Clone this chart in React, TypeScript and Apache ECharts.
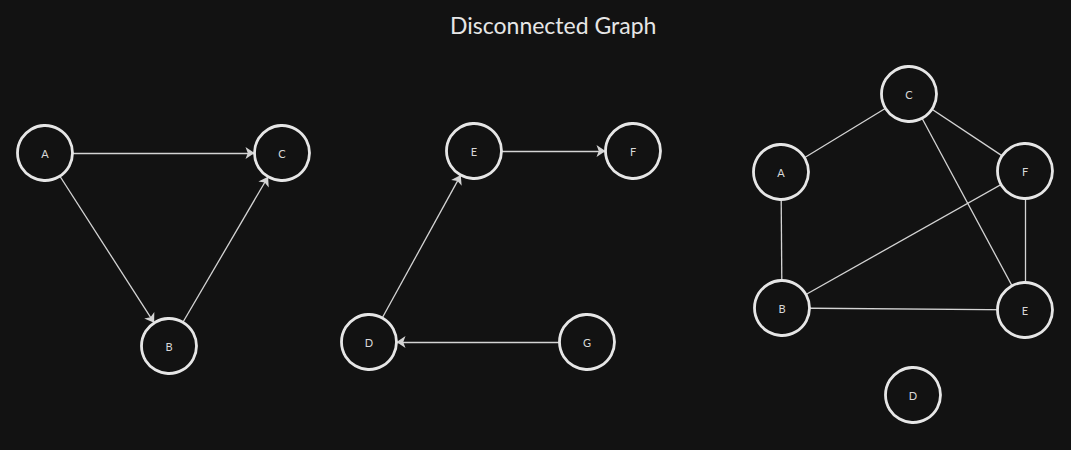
import { useEffect, useRef } from "react"
import * as echarts from "echarts"

// node name, x, y (pixel positions on a 1071x450 canvas)
const leftNodes: [string, number, number][] = [
  ["A", 45, 153],
  ["B", 169, 346],
  ["C", 282, 153],
]
const leftLinks: [string, string][] = [
  ["A", "C"],
  ["A", "B"],
  ["B", "C"],
]

const midNodes: [string, number, number][] = [
  ["E", 474, 151],
  ["F", 633, 151],
  ["D", 369, 342],
  ["G", 587, 342],
]
const midLinks: [string, string][] = [
  ["E", "F"],
  ["D", "E"],
  ["G", "D"],
]

const rightNodes: [string, number, number][] = [
  ["C", 909, 94],
  ["A", 781, 172],
  ["F", 1025, 171],
  ["B", 782, 308],
  ["E", 1025, 310],
  ["D", 913, 395],
]
const rightLinks: [string, string][] = [
  ["A", "C"],
  ["C", "F"],
  ["C", "E"],
  ["A", "B"],
  ["B", "F"],
  ["B", "E"],
  ["F", "E"],
]

const BG = "#121212"
const INK = "#e6e6e6"

const makeSeries = (
  nodes: [string, number, number][],
  links: [string, string][],
  directed: boolean
) => ({
  type: "graph",
  coordinateSystem: "cartesian2d",
  symbol: "circle",
  symbolSize: 55,
  edgeSymbol: directed ? ["none", "arrow"] : ["none", "none"],
  edgeSymbolSize: 9,
  itemStyle: {
    color: BG,
    borderColor: INK,
    borderWidth: 2.8,
  },
  label: {
    show: true,
    position: "inside",
    color: "#d8d8d8",
    fontSize: 11,
    fontFamily: "Lato",
  },
  lineStyle: {
    color: "#d4d4d4",
    width: 1.3,
    opacity: 1,
    curveness: 0,
  },
  emphasis: { disabled: true },
  data: nodes.map(([name, x, y]) => ({ name, value: [x, y] })),
  links: links.map(([source, target]) => ({ source, target })),
})

const App = () => {
  const chartRef = useRef<HTMLDivElement>(null)

  useEffect(() => {
    document.body.style.margin = "0"
    document.body.style.background = BG
    if (!chartRef.current) return
    const chart = echarts.init(chartRef.current, null, { renderer: "svg" })

    chart.setOption({
      animation: false,
      backgroundColor: BG,
      title: {
        text: "Disconnected Graph",
        left: 445,
        top: 8,
        textStyle: {
          color: INK,
          fontSize: 23,
          fontWeight: "normal",
          fontFamily: "Lato",
        },
      },
      grid: { left: 0, right: 0, top: 0, bottom: 0 },
      xAxis: { type: "value", min: 0, max: 1071, show: false },
      yAxis: { type: "value", min: 0, max: 450, inverse: true, show: false },
      series: [
        makeSeries(leftNodes, leftLinks, true),
        makeSeries(midNodes, midLinks, true),
        makeSeries(rightNodes, rightLinks, false),
      ],
    })

    return () => {
      chart.dispose()
    }
  }, [])

  return <div ref={chartRef} style={{ width: 1071, height: 450 }} />
}

export default App
